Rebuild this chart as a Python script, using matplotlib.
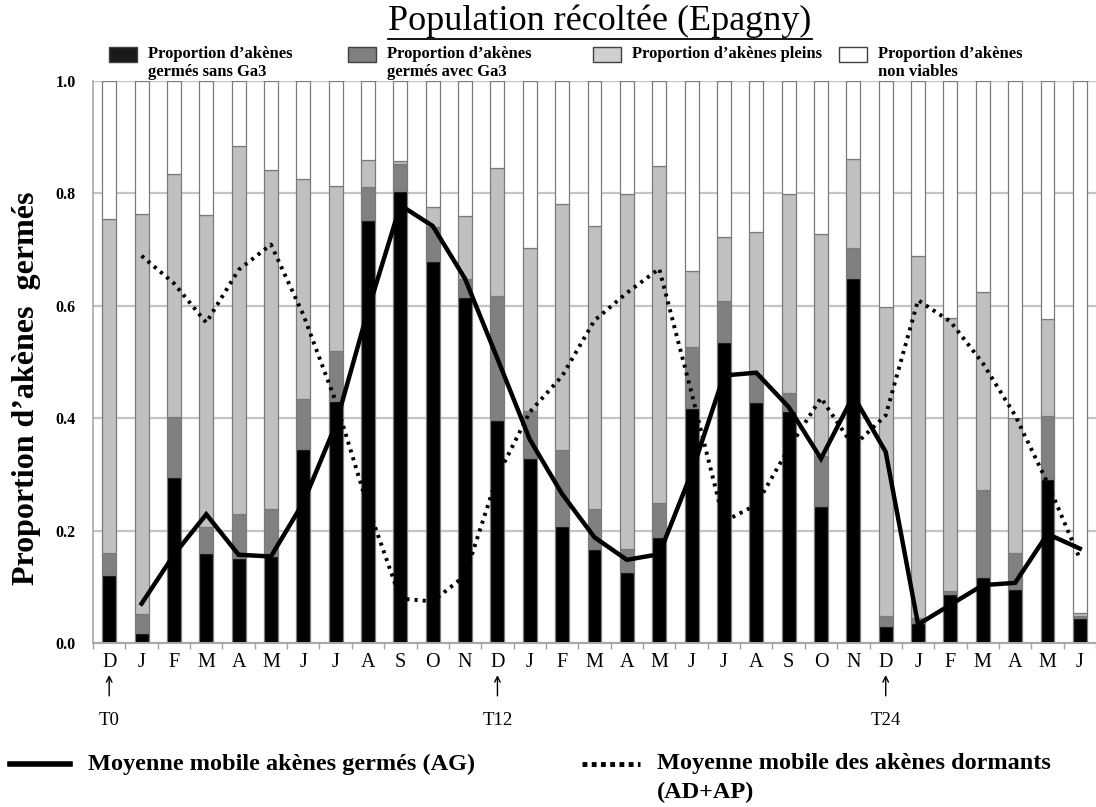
import matplotlib
matplotlib.use("Agg")
import matplotlib.pyplot as plt
from matplotlib.patches import Rectangle
from matplotlib.lines import Line2D
import numpy as np

months = ["D", "J", "F", "M", "A", "M", "J", "J", "A", "S", "O", "N",
          "D", "J", "F", "M", "A", "M", "J", "J", "A", "S", "O", "N",
          "D", "J", "F", "M", "A", "M", "J"]

germes_sans_ga3 = [0.121, 0.018, 0.296, 0.161, 0.152, 0.155, 0.345, 0.431, 0.753, 0.805, 0.680, 0.616,
                   0.396, 0.329, 0.209, 0.168, 0.127, 0.189, 0.418, 0.535, 0.428, 0.412, 0.244, 0.649,
                   0.031, 0.035, 0.088, 0.118, 0.096, 0.292, 0.044]
germes_avec_ga3 = [0.040, 0.033, 0.106, 0.046, 0.077, 0.083, 0.089, 0.089, 0.058, 0.047, 0.061, 0.031,
                   0.222, 0.083, 0.134, 0.070, 0.041, 0.060, 0.109, 0.074, 0.049, 0.032, 0.088, 0.053,
                   0.017, 0.010, 0.004, 0.154, 0.065, 0.112, 0.004]
pleins = [0.593, 0.712, 0.433, 0.555, 0.655, 0.604, 0.392, 0.293, 0.048, 0.005, 0.034, 0.113,
          0.227, 0.290, 0.439, 0.504, 0.631, 0.600, 0.135, 0.114, 0.255, 0.355, 0.396, 0.160,
          0.550, 0.644, 0.486, 0.352, 0.239, 0.172, 0.005]
non_viables = [0.246, 0.237, 0.165, 0.238, 0.116, 0.158, 0.174, 0.187, 0.141, 0.143, 0.225, 0.240,
               0.155, 0.298, 0.218, 0.258, 0.201, 0.151, 0.338, 0.277, 0.268, 0.201, 0.272, 0.138,
               0.402, 0.311, 0.422, 0.376, 0.600, 0.424, 0.947]

mm_germes = [None, 0.070, 0.157, 0.229, 0.157, 0.154, 0.250, 0.388, 0.592, 0.779, 0.742, 0.648,
             0.506, 0.362, 0.265, 0.188, 0.148, 0.158, 0.303, 0.476, 0.481, 0.420, 0.328, 0.440,
             0.340, 0.033, 0.068, 0.103, 0.107, 0.194, 0.168]
mm_dormants = [None, 0.689, 0.640, 0.570, 0.664, 0.709, 0.584, 0.430, 0.242, 0.079, 0.074, 0.120,
               0.297, 0.411, 0.475, 0.574, 0.623, 0.666, 0.445, 0.216, 0.246, 0.346, 0.436, 0.350,
               0.405, 0.610, 0.572, 0.498, 0.405, 0.285, 0.150]

markers_idx = [0, 12, 24]
markers_lbl = ["T0", "T12", "T24"]
yticks = [0.0, 0.2, 0.4, 0.6, 0.8, 1.0]

SERIF = ["Liberation Serif", "DejaVu Serif"]
W, H = 1096, 807
fig = plt.figure(figsize=(W / 100, H / 100), dpi=100)

def fx(px):
    return px / W

def fy(py):
    return 1 - py / H

ax_left, ax_right, ax_top, ax_bot = 92.5, 1096, 81, 643
ax = fig.add_axes([fx(ax_left), fy(ax_bot), fx(ax_right - ax_left), (ax_bot - ax_top) / H])

x = np.arange(len(months))
bw = 0.43
ec = "#7a7a7a"
bottom = np.zeros(len(months))
for vals, col in [(germes_sans_ga3, "#000000"), (germes_avec_ga3, "#808080"),
                  (pleins, "#c0c0c0"), (non_viables, "#ffffff")]:
    v = np.array(vals)
    ax.bar(x, v, bw, bottom=bottom, color=col, edgecolor=ec, linewidth=0.9, zorder=2)
    bottom += v

xs = [i for i, v in enumerate(mm_germes) if v is not None]
ax.plot(xs, [mm_germes[i] for i in xs], color="black", lw=3.2, zorder=4,
        solid_joinstyle="miter")
xs2 = [i for i, v in enumerate(mm_dormants) if v is not None]
ax.plot(xs2, [mm_dormants[i] for i in xs2], color="black", lw=2.8, zorder=4,
        linestyle=(0, (0.8, 1.3)))

ax.set_ylim(0, 1.0)
ax.set_xlim(-0.516, 30.30)
ax.set_yticks(yticks)
ax.set_yticklabels([f"{t:.1f}" for t in yticks], fontfamily=SERIF, fontweight="bold", fontsize=11.5)
ax.yaxis.grid(True, color="#c4c4c4", lw=1.6, zorder=0)
ax.set_axisbelow(True)
ax.tick_params(axis="y", length=0, pad=12)
ax.set_xticks(x)
ax.set_xticklabels(months, fontfamily=SERIF, fontsize=14.5)
ax.set_xticks(np.arange(-0.5, 30.6, 1), minor=True)
ax.tick_params(axis="x", which="major", length=0, pad=7)
ax.tick_params(axis="x", which="minor", length=4, color="#a0a0a0", width=1)
for s in ["top", "right"]:
    ax.spines[s].set_visible(False)
ax.spines["left"].set_color("#a8a8a8")
ax.spines["bottom"].set_color("#a8a8a8")
ax.spines["left"].set_linewidth(1.2)
ax.spines["bottom"].set_linewidth(1.5)

for i, lbl in zip(markers_idx, markers_lbl):
    ax.annotate("", xy=(i, -0.057), xytext=(i, -0.094), xycoords=("data", "axes fraction"),
                textcoords=("data", "axes fraction"),
                arrowprops=dict(arrowstyle="->", color="black", lw=1.0, shrinkA=0, shrinkB=0))
    ax.text(i, -0.122, lbl, transform=ax.get_xaxis_transform(), ha="center", va="top",
            fontfamily=SERIF, fontsize=13.5)

# y label
fig.text(fx(27), fy(388), "Proportion d\u2019akènes  germés", rotation=90, ha="center", va="center",
         fontfamily=SERIF, fontweight="bold", fontsize=23)

# title
t = fig.text(fx(600), fy(21), "Population récoltée (Epagny)", ha="center", va="center",
             fontfamily=SERIF, fontsize=26)
fig.canvas.draw()
bb = t.get_window_extent()
fig.add_artist(Line2D([bb.x0 / W, bb.x1 / W], [(bb.y0 - 1) / H] * 2, color="black", lw=1.3))

# top legend
leg = [(109, "#1a1a1a", "Proportion d\u2019akènes\ngermés sans Ga3"),
       (348, "#808080", "Proportion d\u2019akènes\ngermés avec Ga3"),
       (593, "#d0d0d0", "Proportion d\u2019akènes pleins"),
       (839, "#ffffff", "Proportion d\u2019akènes\nnon viables")]
for px, col, lbl in leg:
    fig.add_artist(Rectangle((fx(px), fy(62)), fx(28), 15 / H, facecolor=col,
                             edgecolor="#404040", lw=1.0, transform=fig.transFigure))
    fig.text(fx(px + 39), fy(46), lbl, ha="left", va="top", fontfamily=SERIF,
             fontweight="bold", fontsize=12, linespacing=1.15)

# bottom legend
fig.add_artist(Line2D([fx(10), fx(70)], [fy(764)] * 2, color="black", lw=4))
fig.text(fx(88), fy(764), "Moyenne mobile akènes germés (AG)", ha="left", va="center",
         fontfamily=SERIF, fontweight="bold", fontsize=17.5)
fig.add_artist(Line2D([fx(582), fx(640)], [fy(764)] * 2, color="black", lw=3.5,
                      linestyle=(0, (1.0, 0.9))))
fig.text(fx(657), fy(764), "Moyenne mobile des akènes dormants", ha="left", va="center",
         fontfamily=SERIF, fontweight="bold", fontsize=17.5)
fig.text(fx(657), fy(792), "(AD+AP)", ha="left", va="center",
         fontfamily=SERIF, fontweight="bold", fontsize=17.5)

fig.savefig("out.png", dpi=100)
